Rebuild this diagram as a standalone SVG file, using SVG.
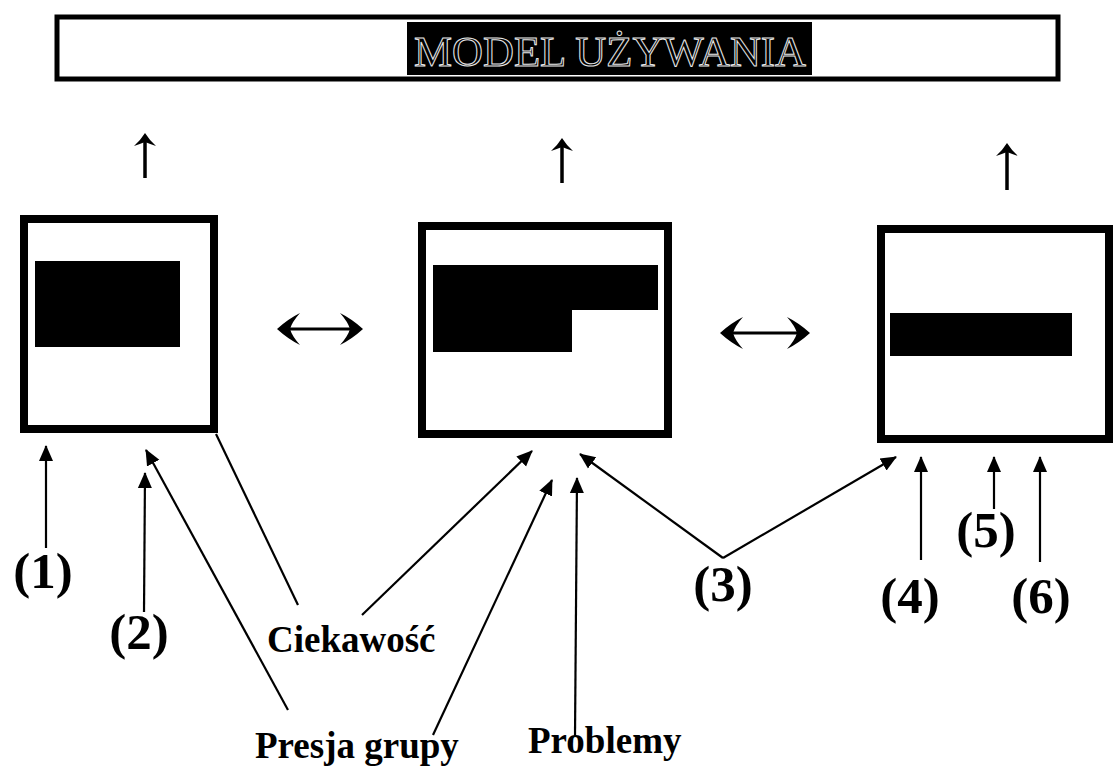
<svg xmlns="http://www.w3.org/2000/svg" width="1115" height="771" viewBox="0 0 1115 771">
<style>
.box{fill:#fff;stroke:#000;stroke-width:8}
.blk{fill:#000}
.lbl{font-family:"Liberation Serif","Times New Roman",serif;font-weight:bold;fill:#000}
.num{font-size:51px}
.word{font-size:37px}
.con{stroke:#000;stroke-width:2.2;fill:none}
.up{stroke:#000;stroke-width:3.5;fill:none}
.title{font-family:"Liberation Serif","Times New Roman",serif;font-size:42px;fill:#000;stroke:#e8e8e8;stroke-width:1}
</style>
<defs>
<marker id="tri" viewBox="0 0 16 16" refX="15" refY="8" markerWidth="16" markerHeight="16" markerUnits="userSpaceOnUse" orient="auto">
<path d="M0,1 L16,8 L0,15 Z" fill="#000"/>
</marker>
<path id="barb" d="M0,0 Q11,-10 23,-16 Q15,-7 13,0 Q15,7 23,16 Q11,10 0,0 Z" fill="#000"/>
<path id="uphead" d="M0,0 Q5,8 11,13 Q5,11 0,9 Q-5,11 -11,13 Q-5,8 0,0 Z" fill="#000"/>
</defs>
<rect width="1115" height="771" fill="#fff"/>

<g id="title">
<rect x="57" y="17" width="1001" height="62" fill="#fff" stroke="#000" stroke-width="5"/>
<rect x="407" y="22" width="405" height="53" fill="#000"/>
<text class="title" x="414" y="66" textLength="392" lengthAdjust="spacingAndGlyphs">MODEL UŻYWANIA</text>
</g>

<g id="box1">
<rect class="box" x="24" y="219" width="190" height="210"/>
<rect class="blk" x="35" y="261" width="145" height="86"/>
</g>
<g id="box2">
<rect class="box" x="422" y="226" width="246" height="208"/>
<path class="blk" d="M433,265 H658 V310 H572 V352 H433 Z"/>
</g>
<g id="box3">
<rect class="box" x="881" y="229" width="228" height="210"/>
<rect class="blk" x="890" y="313" width="182" height="43"/>
</g>

<g id="label-1"><text class="lbl num" x="43" y="588" text-anchor="middle">(1)</text></g>
<g id="label-2"><text class="lbl num" x="139" y="649" text-anchor="middle">(2)</text></g>
<g id="label-3"><text class="lbl num" x="723" y="601" text-anchor="middle">(3)</text></g>
<g id="label-4"><text class="lbl num" x="910" y="613" text-anchor="middle">(4)</text></g>
<g id="label-5"><text class="lbl num" x="986" y="547" text-anchor="middle">(5)</text></g>
<g id="label-6"><text class="lbl num" x="1041" y="613" text-anchor="middle">(6)</text></g>
<g id="label-ciekawosc"><text class="lbl word" x="267" y="652">Ciekawość</text></g>
<g id="label-presja"><text class="lbl word" x="255" y="758">Presja grupy</text></g>
<g id="label-problemy"><text class="lbl word" x="528" y="753">Problemy</text></g>

<g id="connectors">
<!-- up arrows to title -->
<line class="up" x1="145" y1="178" x2="145" y2="140"/>
<use href="#uphead" transform="translate(145,133)"/>
<line class="up" x1="562" y1="183" x2="562" y2="145"/>
<use href="#uphead" transform="translate(562,138)"/>
<line class="up" x1="1007" y1="190" x2="1007" y2="150"/>
<use href="#uphead" transform="translate(1007,143)"/>
<!-- double arrows -->
<line x1="285" y1="329" x2="355" y2="329" stroke="#000" stroke-width="3"/>
<use href="#barb" transform="translate(277,329)"/>
<use href="#barb" transform="translate(363,329) scale(-1,1)"/>
<line x1="728" y1="333" x2="802" y2="333" stroke="#000" stroke-width="3"/>
<use href="#barb" transform="translate(720,333)"/>
<use href="#barb" transform="translate(810,333) scale(-1,1)"/>
<!-- numbered arrows -->
<line class="con" x1="46" y1="548" x2="46" y2="446" marker-end="url(#tri)"/>
<line class="con" x1="144" y1="612" x2="145" y2="473" marker-end="url(#tri)"/>
<line class="con" x1="921" y1="560" x2="921" y2="457" marker-end="url(#tri)"/>
<line class="con" x1="994" y1="509" x2="994" y2="457" marker-end="url(#tri)"/>
<line class="con" x1="1040" y1="562" x2="1040" y2="457" marker-end="url(#tri)"/>
<line class="con" x1="723" y1="558" x2="580" y2="454" marker-end="url(#tri)"/>
<line class="con" x1="723" y1="558" x2="896" y2="457" marker-end="url(#tri)"/>
<!-- word connectors -->
<line class="con" x1="216" y1="434" x2="298" y2="605"/>
<line class="con" x1="362" y1="615" x2="532" y2="451" marker-end="url(#tri)"/>
<line class="con" x1="288" y1="710" x2="146" y2="450" marker-end="url(#tri)"/>
<line class="con" x1="433" y1="735" x2="552" y2="480" marker-end="url(#tri)"/>
<line class="con" x1="575" y1="737" x2="577" y2="478" marker-end="url(#tri)"/>
</g>
</svg>
